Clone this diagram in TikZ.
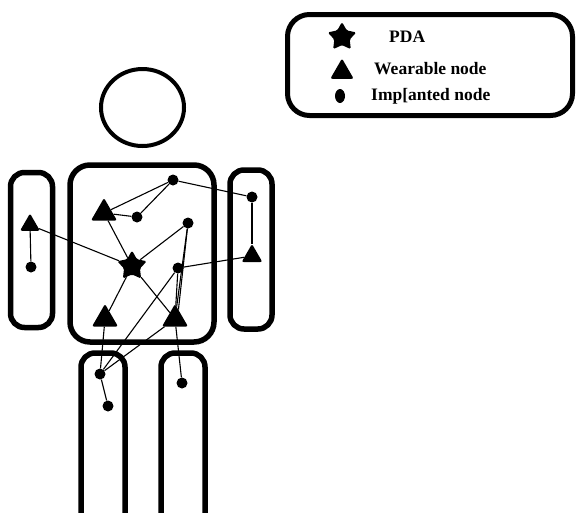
\documentclass[tikz,border=0pt]{standalone}
\usepackage{fontspec}
\setmainfont{Liberation Serif}
\usetikzlibrary{shapes.geometric}

\begin{document}
\begin{tikzpicture}[x=1pt, y=-1pt,
    part/.style={line width=5.5pt, rounded corners=14pt},
    link/.style={line width=1.1pt},
    wear/.style={regular polygon, regular polygon sides=3, fill, inner sep=0pt, minimum size=30pt, rounded corners=2pt},
    impl/.style={circle, fill, inner sep=0pt, minimum size=11pt},
    pda/.style={star, star points=5, star point ratio=1.85, fill, inner sep=0pt, minimum size=31pt, rounded corners=1.5pt},
    keytext/.style={anchor=west, inner sep=0pt, font=\fontsize{17.5}{17.5}\selectfont\bfseries}]
    \useasboundingbox (0,0) rectangle (577,512);

    % Draw the body: head, torso, arms and legs
    \draw[line width=4pt] (142.5,107.5) ellipse [x radius=41.5, y radius=38.5];
    \draw[part, rounded corners=20pt] (70,165) rectangle (214,342);
    \draw[part] (10.5,172.5) rectangle (52.5,327.5);
    \draw[part] (230,170) rectangle (272,329);
    \draw[part] (81,353) rectangle (125,530);
    \draw[part] (161,353) rectangle (205,530);

    % Sensor nodes on the torso
    \node[wear] (w1) at (104,213) {};
    \node[impl] (i1) at (137,217) {};
    \node[impl] (i2) at (173,180) {};
    \node[impl] (i3) at (188,223) {};
    \node[pda] (pda) at (132,266) {};
    \node[impl] (i4) at (178,268) {};
    \node[wear] (w2) at (105,319) {};
    \node[wear] (w3) at (175,319) {};

    % Arms
    \node[impl] (i5) at (252,197) {};
    \node[wear, minimum size=24pt] (w4) at (252,256) {};
    \node[wear, minimum size=23pt] (w5) at (30,225) {};
    \node[impl] (i6) at (31,267) {};

    % Legs
    \node[impl] (i7) at (100,374) {};
    \node[impl] (i8) at (108,406) {};
    \node[impl] (i9) at (182,383) {};

    % Links between the nodes
    \draw[link] (w1) -- (i2);
    \draw[link] (w1) -- (i1);
    \draw[link] (i1) -- (i2);
    \draw[link] (i2) -- (i5);
    \draw[link] (i5) -- (w4);
    \draw[link] (i4) -- (w4);
    \draw[link] (w1) -- (pda);
    \draw[link] (pda) -- (i3);
    \draw[link] (w5) -- (pda);
    \draw[link] (w5) -- (i6);
    \draw[link] (pda) -- (w2);
    \draw[link] (pda) -- (w3);
    \draw[link] (i3) -- (w3);
    \draw[link] (i3) -- (w3.70);
    \draw[link] (i4) -- (w3);
    \draw[link] (w2) -- (i7);
    \draw[link] (i4) -- (i7);
    \draw[link] (w3) -- (i7);
    \draw[link] (w3) -- (i9);
    \draw[link] (i7) -- (i8);

    % Legend
    \draw[line width=5pt, rounded corners=22pt] (287.5,14.5) rectangle (572.5,115.5);
    \node[pda, minimum size=30pt] (keypda) at (342,37) {};
    \node[keytext] (txtpda) at (389,37) {PDA};
    \node[wear, minimum size=27pt] (keywear) at (342,72) {};
    \node[keytext] (txtwear) at (374,69) {Wearable node};
    \node[ellipse, fill, inner sep=0pt, minimum width=10pt, minimum height=14pt] (keyimpl) at (340,96) {};
    \node[keytext] (txtimpl) at (371,96) {Imp[anted node};

\end{tikzpicture}
\end{document}
